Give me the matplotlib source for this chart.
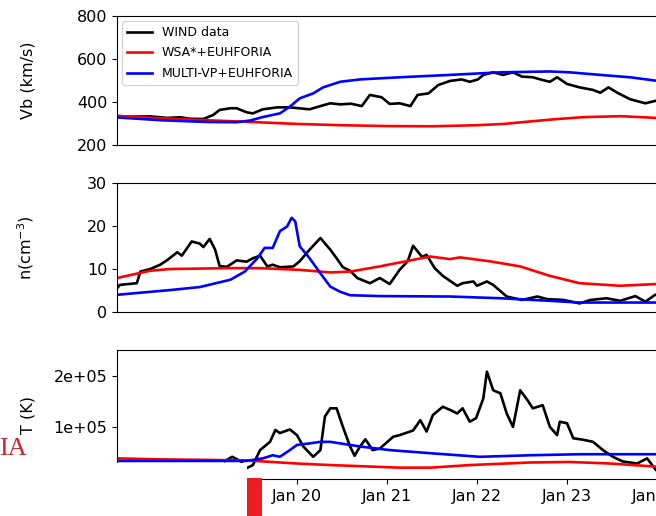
import matplotlib
matplotlib.use("Agg")
import matplotlib.pyplot as plt
import matplotlib.dates as mdates
from matplotlib.patches import Rectangle
from matplotlib.ticker import FormatStrFormatter
import pandas as pd

t0 = pd.Timestamp("2018-01-18")

# all times are in days after t0
wind_vb_t = [0.00, 0.15, 0.37, 0.56, 0.70, 0.81, 0.96, 1.07, 1.14, 1.26, 1.33, 1.44, 1.51,
             1.62, 1.78, 1.92, 2.14, 2.26, 2.37, 2.48, 2.60, 2.72, 2.81, 2.94, 3.03, 3.14,
             3.26, 3.34, 3.46, 3.57, 3.70, 3.83, 3.92, 4.01, 4.07, 4.18, 4.29, 4.40, 4.50,
             4.62, 4.73, 4.81, 4.89, 5.00, 5.14, 5.29, 5.37, 5.46, 5.56, 5.70, 5.87, 5.99, 6.10]
wind_vb = [335, 332, 333, 326, 329, 322, 321, 340, 363, 371, 371, 352, 347,
           366, 375, 375, 366, 381, 394, 389, 392, 381, 433, 422, 391, 394,
           381, 433, 440, 479, 498, 505, 494, 505, 526, 538, 526, 538, 518,
           515, 502, 494, 515, 484, 468, 456, 443, 468, 443, 413, 394, 406, 400]

wsa_vb_t = [0.0, 0.5, 1.0, 1.5, 2.0, 2.5, 3.0, 3.5, 4.0, 4.3, 4.6, 4.9, 5.2, 5.6, 5.9, 6.1]
wsa_vb = [335, 324, 315, 307, 298, 292, 288, 287, 292, 298, 310, 321, 330, 334, 328, 323]

mvp_vb_t = [0.0, 0.5, 1.0, 1.33, 1.48, 1.62, 1.81, 1.92, 2.03, 2.18, 2.29, 2.37, 2.48,
            2.70, 3.14, 3.70, 4.26, 4.81, 5.03, 5.37, 5.70, 5.99, 6.10]
mvp_vb = [328, 315, 307, 306, 314, 330, 347, 378, 417, 440, 468, 479, 494,
          505, 515, 526, 538, 542, 538, 526, 515, 499, 494]

wind_n_t = [0.00, 0.03, 0.22, 0.26, 0.37, 0.48, 0.56, 0.67, 0.72, 0.83, 0.92, 0.96, 1.03,
            1.09, 1.14, 1.22, 1.33, 1.44, 1.51, 1.59, 1.67, 1.73, 1.81, 1.96, 2.03, 2.14,
            2.26, 2.37, 2.44, 2.51, 2.59, 2.67, 2.81, 2.92, 3.03, 3.14, 3.23, 3.29, 3.39,
            3.44, 3.53, 3.62, 3.78, 3.84, 3.96, 4.00, 4.11, 4.18, 4.33, 4.50, 4.67, 4.78,
            4.96, 5.14, 5.26, 5.44, 5.59, 5.76, 5.87, 5.98, 6.10]
wind_n = [5.5, 6.3, 6.7, 9.4, 10.0, 11.0, 12.1, 13.9, 13.1, 16.4, 15.9, 15.1, 17.0,
          14.5, 10.7, 10.5, 12.0, 11.7, 12.5, 13.1, 10.6, 11.0, 10.4, 10.6, 11.8, 14.5,
          17.2, 14.5, 12.5, 10.4, 9.6, 7.9, 6.7, 7.9, 6.5, 9.8, 11.8, 15.4, 12.8,
          13.3, 10.2, 8.4, 6.1, 6.7, 7.1, 6.1, 7.1, 6.3, 3.6, 2.8, 3.6, 3.0,
          2.8, 2.0, 2.8, 3.2, 2.6, 3.7, 2.4, 4.0, 4.5]

wsa_n_t = [0.0, 0.37, 0.59, 1.26, 1.59, 2.03, 2.37, 2.59, 2.92, 3.26, 3.48, 3.70, 3.81,
           4.14, 4.48, 4.81, 5.14, 5.59, 5.99, 6.10]
wsa_n = [7.9, 9.6, 10.0, 10.2, 10.2, 9.8, 9.2, 9.4, 10.6, 12.0, 12.9, 12.3, 12.7,
         11.8, 10.6, 8.4, 6.7, 6.1, 6.5, 6.7]

mvp_n_t = [0.0, 0.59, 0.92, 1.26, 1.42, 1.56, 1.64, 1.73, 1.81, 1.89, 1.94, 1.98, 2.03,
           2.14, 2.26, 2.37, 2.48, 2.59, 2.92, 3.70, 4.26, 4.81, 5.14, 6.10]
mvp_n = [4.0, 5.1, 5.8, 7.5, 9.4, 12.5, 14.9, 14.9, 18.8, 19.9, 21.9, 21.1, 15.3,
         12.5, 9.0, 5.9, 4.7, 3.9, 3.7, 3.6, 3.2, 2.6, 2.2, 2.2]

wind_T_t = [1.20, 1.28, 1.37, 1.44, 1.51, 1.59, 1.70, 1.76, 1.81, 1.92, 2.00, 2.07, 2.18,
            2.26, 2.31, 2.37, 2.44, 2.51, 2.59, 2.64, 2.70, 2.76, 2.84, 2.92, 3.07, 3.14,
            3.29, 3.37, 3.44, 3.51, 3.62, 3.70, 3.78, 3.84, 3.92, 3.99, 4.07, 4.11, 4.18,
            4.26, 4.33, 4.40, 4.48, 4.56, 4.62, 4.73, 4.81, 4.89, 4.92, 5.00, 5.07, 5.18,
            5.29, 5.40, 5.51, 5.62, 5.78, 5.89, 5.99, 6.10]
wind_T = [3.5e4, 4.3e4, 3.5e4, 2.1e4, 2.7e4, 5.6e4, 7.2e4, 9.5e4, 8.9e4, 9.6e4, 8.5e4, 6.3e4, 4.3e4,
          5.6e4, 1.21e5, 1.37e5, 1.37e5, 1.01e5, 6.3e4, 4.5e4, 6.3e4, 7.7e4, 5.6e4, 5.9e4, 8.2e4, 8.5e4,
          9.4e4, 1.14e5, 9.2e4, 1.24e5, 1.40e5, 1.34e5, 1.27e5, 1.37e5, 1.11e5, 1.18e5, 1.56e5, 2.08e5, 1.72e5,
          1.66e5, 1.27e5, 1.01e5, 1.72e5, 1.53e5, 1.37e5, 1.43e5, 1.01e5, 8.5e4, 1.11e5, 1.08e5, 7.9e4, 7.6e4,
          7.2e4, 5.6e4, 4.3e4, 3.4e4, 3.0e4, 4.0e4, 1.7e4, 1.2e4]

wsa_T_t = [0.0, 0.5, 1.0, 1.44, 2.0, 2.37, 3.14, 3.48, 3.92, 4.59, 5.03, 5.48, 5.99, 6.10]
wsa_T = [4.0e4, 3.8e4, 3.7e4, 3.6e4, 3.0e4, 2.7e4, 2.2e4, 2.2e4, 2.7e4, 3.2e4, 3.3e4, 3.0e4, 2.4e4, 2.3e4]

mvp_T_t = [0.0, 1.44, 1.62, 1.73, 1.81, 1.92, 2.00, 2.14, 2.26, 2.37, 2.48, 2.70, 3.03,
           3.48, 4.03, 4.59, 5.14, 6.10]
mvp_T = [3.5e4, 3.5e4, 4.0e4, 4.6e4, 4.3e4, 5.6e4, 6.6e4, 6.9e4, 7.2e4, 7.2e4, 6.9e4, 6.3e4, 5.6e4,
         5.0e4, 4.3e4, 4.6e4, 4.8e4, 4.8e4]


def to_dates(days):
    return t0 + pd.to_timedelta(days, unit="D")


W, H = 656, 516
fig = plt.figure(figsize=(W / 100, H / 100), dpi=100)

left = 117 / W
width = 630 / W
height = 129 / H
ax_v = fig.add_axes([left, 1 - 145 / H, width, height])
ax_n = fig.add_axes([left, 1 - 312 / H, width, height])
ax_T = fig.add_axes([left, 1 - 479 / H, width, height])

fs = 11.5
lw = 1.9
panels = [
    (ax_v, (wind_vb_t, wind_vb), (wsa_vb_t, wsa_vb), (mvp_vb_t, mvp_vb)),
    (ax_n, (wind_n_t, wind_n), (wsa_n_t, wsa_n), (mvp_n_t, mvp_n)),
    (ax_T, (wind_T_t, wind_T), (wsa_T_t, wsa_T), (mvp_T_t, mvp_T)),
]
for ax, obs, wsa, mvp in panels:
    ax.plot(to_dates(obs[0]), obs[1], color="black", lw=lw, label="WIND data")
    ax.plot(to_dates(wsa[0]), wsa[1], color="red", lw=lw, label="WSA*+EUHFORIA")
    ax.plot(to_dates(mvp[0]), mvp[1], color="blue", lw=lw, label="MULTI-VP+EUHFORIA")
    ax.set_xlim(t0, t0 + pd.Timedelta(days=7))
    ax.tick_params(labelsize=fs)
    ax.yaxis.set_label_coords(-0.129, 0.5)

ax_v.set_ylim(200, 800)
ax_v.set_yticks([200, 400, 600, 800])
ax_v.set_ylabel("Vb (km/s)", fontsize=fs)
ax_v.legend(loc="upper left", fontsize=9.0, labelspacing=0.6, borderaxespad=0.4)

ax_n.set_ylim(0, 30)
ax_n.set_yticks([0, 10, 20, 30])
ax_n.set_ylabel("n(cm$^{-3}$)", fontsize=fs)

for ax in (ax_v, ax_n):
    ax.tick_params(axis="x", bottom=False, labelbottom=False)

ax_T.set_ylim(0, 2.5e5)
ax_T.set_yticks([0, 1e5, 2e5])
ax_T.yaxis.set_major_formatter(FormatStrFormatter("%.0e"))
ax_T.set_ylabel("T (K)", fontsize=fs)
ax_T.xaxis.set_major_locator(mdates.DayLocator())
ax_T.xaxis.set_major_formatter(mdates.DateFormatter("%b %d"))

# pieces of the neighbouring page layer lying over the lower left corner
fig.add_artist(Rectangle((0, 0), 247 / W, 53 / H, transform=fig.transFigure,
                         facecolor="white", edgecolor="none", zorder=10))
fig.add_artist(Rectangle((247 / W, 0), 15 / W, 38 / H, transform=fig.transFigure,
                         facecolor="#ec1c24", edgecolor="none", zorder=10))
fig.text(27 / W, 1 - 455 / H, "IA", color="#d2232a", fontsize=19,
         family=["Liberation Serif", "DejaVu Serif"], ha="right", va="baseline", zorder=11)

fig.savefig("out.png", dpi=100)
plt.close(fig)
